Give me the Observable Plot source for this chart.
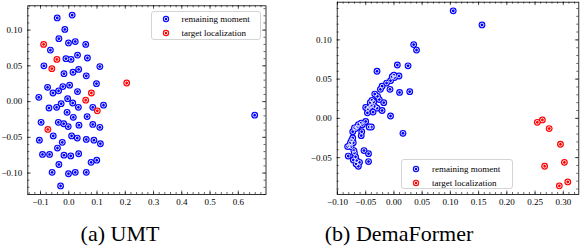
<!DOCTYPE html>
<html><head><meta charset="utf-8">
<script src="https://cdn.jsdelivr.net/npm/d3@7"></script>
<script src="https://cdn.jsdelivr.net/npm/@observablehq/plot@0.6"></script>
<style>
body{margin:0;background:#fff;}
#wrap{position:relative;width:580px;height:250px;overflow:hidden;font-family:"Liberation Serif","DejaVu Serif",serif;color:#000;}
.panel{position:absolute;top:0;}
.cap{position:absolute;font-family:"Liberation Serif","DejaVu Serif",serif;font-size:22px;line-height:22px;white-space:nowrap;transform:translateX(-50%);}
.legend{position:absolute;box-sizing:border-box;border:1px solid #d4d4d4;border-radius:3px;background:rgba(255,255,255,0.85);font-family:"Liberation Serif","DejaVu Serif",serif;font-size:9px;}
.row{position:absolute;left:0;right:0;height:0;}
.row svg{position:absolute;top:-4px;}
.row span{position:absolute;top:-6px;line-height:12px;white-space:nowrap;}
</style>
</head><body>
<div id="wrap"></div>
<script>
// ---- (a) UMT ----
const umtRemainX = [-0.041,0.012,-0.014,-0.035,-0.001,0.023,0.060,-0.065,-0.010,0.008,0.031,0.066,-0.088,-0.017,0.015,0.035,0.062,0.110,-0.075,-0.056,-0.036,-0.021,0.003,0.031,0.098,-0.106,-0.070,-0.043,-0.027,-0.004,0.014,0.034,0.085,0.123,-0.006,0.016,0.065,-0.098,-0.037,-0.018,-0.002,0.036,0.085,0.110,-0.055,0.010,0.030,0.062,0.089,-0.104,-0.023,0.112,-0.040,-0.093,-0.068,-0.017,0.007,0.035,-0.035,0.079,0.099,-0.059,-0.001,0.023,0.062,-0.029,0.658];
const umtRemainY = [0.117,0.121,0.101,0.088,0.082,0.084,0.080,0.072,0.060,0.059,0.065,0.061,0.050,0.039,0.041,0.045,0.036,0.049,0.020,0.012,0.015,0.021,0.023,0.014,0.025,0.006,-0.009,-0.008,-0.003,0.004,-0.002,-0.008,-0.008,-0.005,-0.015,-0.022,-0.021,-0.029,-0.029,-0.031,-0.035,-0.033,-0.032,-0.036,-0.048,-0.048,-0.051,-0.053,-0.054,-0.054,-0.057,-0.059,-0.065,-0.074,-0.074,-0.075,-0.076,-0.073,-0.088,-0.085,-0.082,-0.099,-0.101,-0.099,-0.099,-0.118,-0.019];
const umtTargetX = [-0.089,-0.042,-0.060,0.060,0.080,0.101,-0.074,0.205];
const umtTargetY = [0.080,0.059,0.046,0.002,0.012,-0.013,-0.039,0.026];
const umtXDomain = [-0.145, 0.698];
const umtYDomain = [-0.130, 0.134];
const umtXTicks = [-0.1,0,0.1,0.2,0.3,0.4,0.5,0.6,0.7];
const umtYTicks = [-0.10,-0.05,0,0.05,0.10];

// ---- (b) DemaFormer ----
const demaRemainX = [0.105,0.156,0.035,0.040,-0.030,0.006,0.025,0.000,-0.003,0.009,-0.006,0.001,-0.013,-0.021,-0.024,-0.007,0.010,0.028,-0.034,-0.029,-0.026,-0.018,-0.039,-0.042,-0.040,-0.050,-0.043,-0.030,-0.021,-0.037,-0.047,-0.006,-0.050,-0.058,-0.063,-0.056,-0.044,-0.040,-0.070,-0.065,-0.073,-0.057,-0.058,0.016,-0.073,-0.075,-0.072,-0.079,-0.082,-0.076,-0.071,-0.053,-0.070,-0.045,-0.081,-0.068,-0.066,-0.045,-0.061,-0.067,-0.063,-0.072,-0.077,-0.068,-0.034,-0.036,-0.046];
const demaRemainY = [0.137,0.119,0.094,0.087,0.060,0.068,0.067,0.055,0.053,0.054,0.048,0.052,0.045,0.041,0.037,0.037,0.033,0.034,0.031,0.028,0.024,0.020,0.023,0.020,0.016,0.014,0.014,0.013,0.010,0.008,0.007,0.003,-0.004,-0.006,-0.008,-0.008,-0.011,-0.011,-0.012,-0.011,-0.017,-0.017,-0.022,-0.019,-0.025,-0.028,-0.031,-0.035,-0.036,-0.036,-0.041,-0.041,-0.044,-0.045,-0.048,-0.049,-0.054,-0.055,-0.056,-0.058,-0.061,-0.053,-0.031,-0.013,0.015,0.021,0.012];
const demaTargetX = [0.254,0.263,0.275,0.295,0.302,0.267,0.308,0.293];
const demaTargetY = [-0.005,-0.002,-0.013,-0.033,-0.056,-0.061,-0.081,-0.086];
const demaXDomain = [-0.1005, 0.3275];
const demaYDomain = [-0.097, 0.148];
const demaXTicks = [-0.10,-0.05,0,0.05,0.10,0.15,0.20,0.25,0.30];
const demaYTicks = [-0.05,0,0.05,0.10];

const seriesNames = ["remaining moment", "target localization"];
const seriesColors = ["#0000ff", "#ff0000"];
const captions = ["(a) UMT", "(b) DemaFormer"];

function pts(xs, ys){ return xs.map((x,i)=>({x, y: ys[i]})); }
function inDom(v, d){ return v >= d[0]-1e-9 && v <= d[1]+1e-9; }

const MR = 3.4, MW = 1.85;

function panel(o){
  const W = 290, H = 210;
  const innerH = H - o.mt - o.mb, innerW = W - o.ml - o.mr;
  const xMinor = d3.range(Math.ceil(o.xd[0]/o.xms - 1e-6), Math.floor(o.xd[1]/o.xms + 1e-6)+1).map(k=>k*o.xms).filter(v=>inDom(v,o.xd));
  const yMinor = d3.range(Math.ceil(o.yd[0]/o.yms - 1e-6), Math.floor(o.yd[1]/o.yms + 1e-6)+1).map(k=>k*o.yms).filter(v=>inDom(v,o.yd));
  const xt = o.xt.filter(v=>inDom(v,o.xd)), yt = o.yt.filter(v=>inDom(v,o.yd));
  const MJ = 3.5, MN = 2, sw = 0.6;
  const remain = pts(o.rx, o.ry), target = pts(o.tx, o.ty);
  const marker = (data, color) => [
    Plot.dot(data, {x:"x", y:"y", r:MR, fill:color, stroke:"none"}),
    Plot.dot(data, {x:"x", y:"y", r:MW, fill:"none", stroke:"white", strokeWidth:0.85})
  ];
  return Plot.plot({
    width: W, height: H,
    marginLeft: o.ml, marginRight: o.mr, marginTop: o.mt, marginBottom: o.mb,
    style: {fontFamily: '"Liberation Serif", "DejaVu Serif", serif', background: "transparent"},
    x: {domain: o.xd, axis: null},
    y: {domain: o.yd, axis: null},
    marks: [
      Plot.ruleX(xMinor, {insetTop: innerH - MN, stroke:"#000", strokeWidth:sw}),
      Plot.ruleX(xMinor, {insetBottom: innerH - MN, stroke:"#000", strokeWidth:sw}),
      Plot.ruleX(xt, {insetTop: innerH - MJ, stroke:"#000", strokeWidth:sw}),
      Plot.ruleX(xt, {insetBottom: innerH - MJ, stroke:"#000", strokeWidth:sw}),
      Plot.ruleY(yMinor, {insetRight: innerW - MN, stroke:"#000", strokeWidth:sw}),
      Plot.ruleY(yMinor, {insetLeft: innerW - MN, stroke:"#000", strokeWidth:sw}),
      Plot.ruleY(yt, {insetRight: innerW - MJ, stroke:"#000", strokeWidth:sw}),
      Plot.ruleY(yt, {insetLeft: innerW - MJ, stroke:"#000", strokeWidth:sw}),
      Plot.frame({stroke:"#000", strokeWidth:0.8}),
      Plot.axisX(xt, {anchor:"bottom", tickSize:0, tickPadding:4.5, tickFormat:d3.format(o.xf), fontSize:9, label:null}),
      Plot.axisY(yt, {anchor:"left", tickSize:0, tickPadding:5.5, tickFormat:d3.format(o.yf), fontSize:9, label:null}),
      ...marker(remain, seriesColors[0]),
      ...marker(target, seriesColors[1])
    ]
  });
}

function legend(left, top, w, h, rows){
  const box = document.createElement("div");
  box.className = "legend";
  Object.assign(box.style, {left: left+"px", top: top+"px", width: w+"px", height: h+"px"});
  seriesNames.forEach((name, i) => {
    const r = document.createElement("div");
    r.className = "row";
    r.style.top = rows[i] + "px";
    r.innerHTML = `<svg width="8" height="8" style="left:${14-4}px"><circle cx="4" cy="4" r="3.2" fill="${seriesColors[i]}"/><circle cx="4" cy="4" r="1.75" fill="none" stroke="white" stroke-width="0.85"/></svg><span style="left:30px">${name}</span>`;
    box.appendChild(r);
  });
  return box;
}

const wrap = document.getElementById("wrap");
const p1 = panel({rx:umtRemainX, ry:umtRemainY, tx:umtTargetX, ty:umtTargetY, xd:umtXDomain, yd:umtYDomain, xt:umtXTicks, yt:umtYTicks, xms:0.02, yms:0.01, xf:".1f", yf:".2f", ml:27.3, mr:24.5, mt:5.3, mb:16});
p1.classList.add("panel"); p1.style.left = "0px";
const p2 = panel({rx:demaRemainX, ry:demaRemainY, tx:demaTargetX, ty:demaTargetY, xd:demaXDomain, yd:demaYDomain, xt:demaXTicks, yt:demaYTicks, xms:0.01, yms:0.01, xf:".2f", yf:".2f", ml:46.7, mr:1.7, mt:1.7, mb:16});
p2.classList.add("panel"); p2.style.left = "290px";
wrap.appendChild(p1); wrap.appendChild(p2);
wrap.appendChild(legend(150.5, 10.5, 110, 29, [7.5, 21]));
wrap.appendChild(legend(401, 159, 112, 30, [9, 22.5]));
[[captions[0], 120], [captions[1], 399]].forEach(([t, cx]) => {
  const c = document.createElement("div");
  c.className = "cap"; c.textContent = t;
  c.style.left = cx + "px"; c.style.top = "223px";
  wrap.appendChild(c);
});
</script>
</body></html>
